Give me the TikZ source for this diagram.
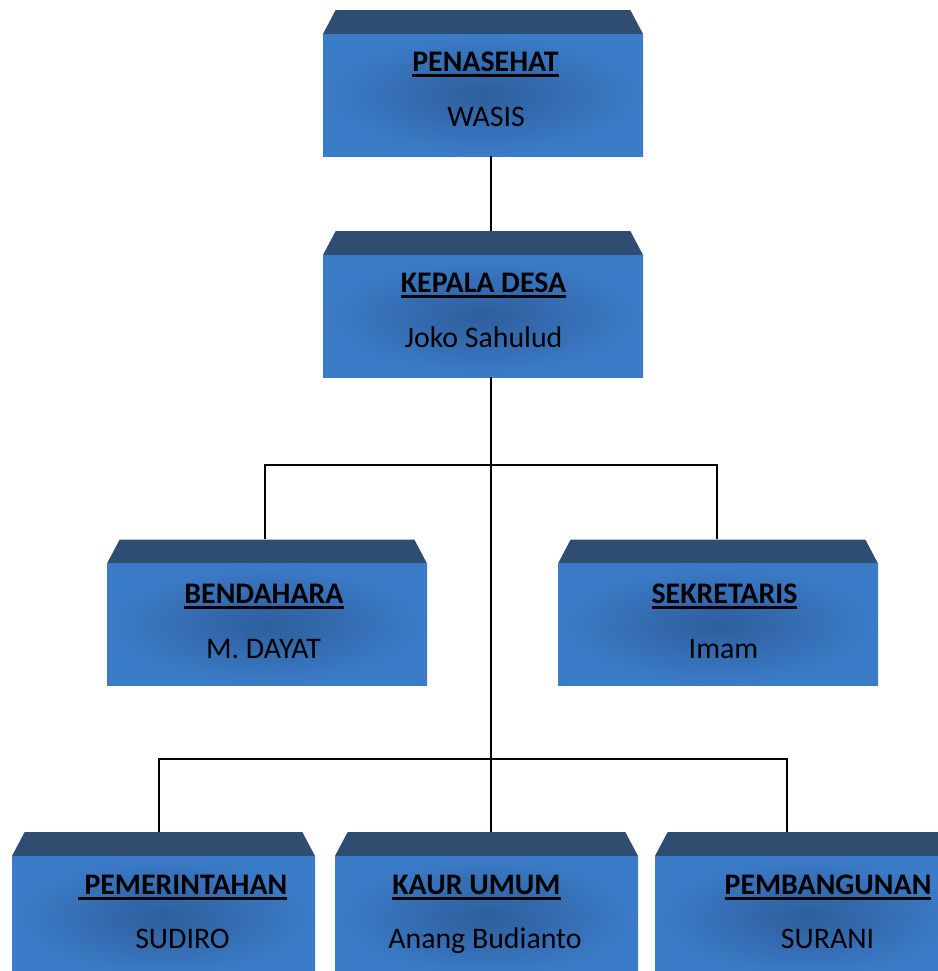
\documentclass[tikz,border=0pt]{standalone}
\usepackage{fontspec}
\setmainfont{Carlito}
\definecolor{bevc}{HTML}{2F4D70}
\definecolor{bin}{HTML}{2E5E9C}
\definecolor{bout}{HTML}{3B7CC8}
\newcommand\ulbox[1]{\setbox0\hbox{#1}\rlap{\rule[-4.3pt]{\wd0}{2.4pt}}\box0}
\tikzset{
  orgbox/.style={rectangle, inner sep=0pt, minimum width=240pt, minimum height=109.5pt,
    path picture={
      \fill[bevc] ([yshift=-18pt]path picture bounding box.north west)
        -- ([xshift=9.5pt]path picture bounding box.north west)
        -- ([xshift=-9.5pt]path picture bounding box.north east)
        -- ([yshift=-18pt]path picture bounding box.north east) -- cycle;
      \shade[inner color=bin, outer color=bout]
        ([yshift=-18pt]path picture bounding box.north west)
        rectangle (path picture bounding box.south east);
    }},
  narrowbox/.style={orgbox, minimum width=227.25pt},
  ttl/.style={anchor=base, inner sep=0pt, font=\fontsize{22.4}{25}\selectfont\bfseries},
  nm/.style={anchor=base, inner sep=0pt, font=\fontsize{22.4}{25}\selectfont},
  conn/.style={line width=1.4pt, black}
}
\begin{document}
\begin{tikzpicture}[x=0.75pt, y=-0.75pt]
\useasboundingbox (0,0) rectangle (938,971);
\clip (0,0) rectangle (938,971);
% boxes
\node[orgbox] (pen) at (483,83) {};
\node[orgbox] (kep) at (483,304) {};
\node[orgbox] (ben) at (267,612.5) {};
\node[orgbox] (sek) at (718,612.5) {};
\node[narrowbox] (pem) at (163.5,905) {};
\node[narrowbox] (kau) at (486.5,905) {};
\node[narrowbox] (pbg) at (806.5,905) {};
% texts
\node[ttl] (penT) at (485.5,71.7) {\ulbox{PENASEHAT}};
\node[nm]  (penN) at (486,126.7) {WASIS};
\node[ttl] (kepT) at (483.5,292.7) {\ulbox{KEPALA DESA}};
\node[nm]  (kepN) at (483.5,347.7) {Joko Sahulud};
\node[ttl] (benT) at (264,603) {\ulbox{BENDAHARA}};
\node[nm]  (benN) at (263.5,658) {M. DAYAT};
\node[ttl] (sekT) at (724.5,603) {\ulbox{SEKRETARIS}};
\node[nm]  (sekN) at (723.5,658) {Imam};
\node[ttl] (pemT) at (182.5,894) {\ulbox{\ PEMERINTAHAN}};
\node[nm]  (pemN) at (182.5,948.3) {SUDIRO};
\node[ttl] (kauT) at (476.5,894) {\ulbox{KAUR UMUM}};
\node[nm]  (kauN) at (485,948.3) {Anang Budianto};
\node[ttl] (pbgT) at (828,894) {\ulbox{PEMBANGUNAN}};
\node[nm]  (pbgN) at (827.5,948.3) {SURANI};
% connectors
\coordinate (bar1) at (491,465);
\coordinate (bar2) at (491,759);
\draw[conn] ([xshift=6pt]pen.south) -- ([xshift=6pt]kep.north);
\draw[conn] ([xshift=6pt]kep.south) -- ([xshift=3.375pt]kau.north);
\draw[conn] ([xshift=-1.5pt]ben.north) |- (bar1) -| ([xshift=-0.75pt]sek.north);
\draw[conn] ([xshift=-3.375pt]pem.north) |- (bar2) -| ([xshift=-14.625pt]pbg.north);
\end{tikzpicture}
\end{document}
